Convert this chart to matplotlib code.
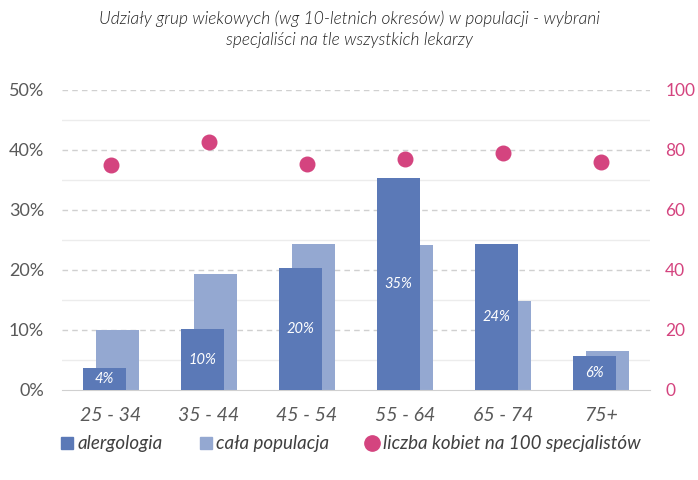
import matplotlib.pyplot as plt
from matplotlib.lines import Line2D
import numpy as np

# dane
grupy = ['25 - 34', '35 - 44', '45 - 54', '55 - 64', '65 - 74', '75+']
alergologia = [3.6, 10.1, 20.4, 35.4, 24.3, 5.6]
populacja = [10.0, 19.4, 24.4, 24.2, 14.9, 6.5]
kobiety = [75.0, 82.8, 75.4, 77.0, 78.9, 76.1]
etykiety = ['4%', '10%', '20%', '35%', '24%', '6%']

c_dark = '#5b79b7'
c_light = '#94a8d1'
c_pink = '#d4447f'
c_text = '#595959'

plt.rcParams['font.family'] = ['Lato', 'DejaVu Sans']

fig = plt.figure(figsize=(6.98, 4.8), dpi=100)
ax = fig.add_axes([62 / 698, 90 / 480, 588 / 698, 300 / 480])
ax2 = ax.twinx()

xs = np.arange(len(grupy))
w = 0.44
off = 0.066

for y in np.arange(5, 50, 10):
    ax.axhline(y, color='#ececec', lw=1, zorder=0)
for y in np.arange(10, 51, 10):
    ax.axhline(y, color='#d0d0d0', lw=1, ls=(0, (4, 3)), zorder=0)

ax.bar(xs + off, populacja, width=w, color=c_light, zorder=2)
ax.bar(xs - off, alergologia, width=w, color=c_dark, zorder=3)
for x, v, t in zip(xs, alergologia, etykiety):
    ax.text(x - off, v / 2, t, color='white', ha='center', va='center',
            fontsize=10.5, style='italic', zorder=4)

ax2.scatter(xs, kobiety, s=110, color=c_pink, zorder=5)

ax.set_xlim(-0.5, 5.5)
ax.set_ylim(0, 50)
ax2.set_ylim(0, 100)
ax.set_yticks(range(0, 51, 10))
ax.set_yticklabels([f'{v}%' for v in range(0, 51, 10)])
ax2.set_yticks(range(0, 101, 20))
ax.set_xticks(xs)
ax.set_xticklabels(grupy, style='italic', fontsize=14, color=c_text)

for a in (ax, ax2):
    for s in a.spines.values():
        s.set_visible(False)
ax.spines['bottom'].set_visible(True)
ax.spines['bottom'].set_color('#d0d0d0')
ax.tick_params(axis='x', length=0, pad=12)
ax.tick_params(axis='y', length=0, labelsize=13, labelcolor=c_text, pad=13)
ax2.tick_params(axis='y', length=0, labelsize=12.5, labelcolor=c_pink, pad=11)

fig.text(0.5, 0.978, 'Udziały grup wiekowych (wg 10-letnich okresów) w populacji - wybrani\n'
         'specjaliści na tle wszystkich lekarzy', ha='center', va='top',
         fontsize=12.5, style='italic', fontweight=300, color='#222222',
         linespacing=1.4)

handles = [
    Line2D([], [], marker='s', ls='', color=c_dark, markersize=8),
    Line2D([], [], marker='s', ls='', color=c_light, markersize=8),
    Line2D([], [], marker='o', ls='', color=c_pink, markersize=11),
]
fig.legend(handles, ['alergologia', 'cała populacja', 'liczba kobiet na 100 specjalistów'],
           loc='center', bbox_to_anchor=(0.5, 0.075), ncol=3, frameon=False,
           prop={'style': 'italic', 'size': 13.5}, labelcolor='#404040',
           handletextpad=0.05, columnspacing=1.8, handlelength=1.0)

fig.savefig('out.png', dpi=100)
